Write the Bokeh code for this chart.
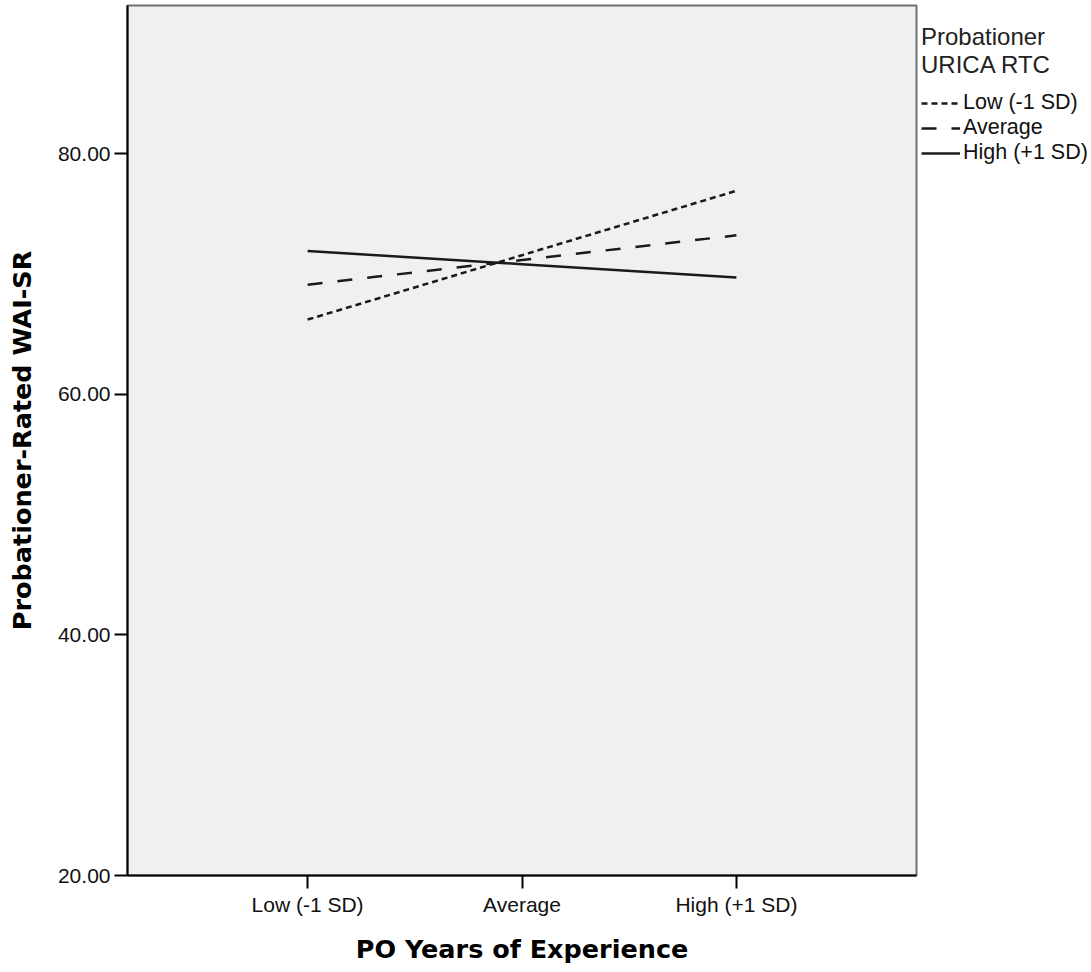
from bokeh.plotting import figure
from bokeh.models import FactorRange, Range1d, Legend, LegendItem, FixedTicker
from bokeh.embed import file_html
from bokeh.resources import INLINE

# ---- data ----
categories = ["Low (-1 SD)", "Average", "High (+1 SD)"]
low_rtc = [66.2, 71.55, 76.9]
avg_rtc = [69.1, 71.15, 73.2]
high_rtc = [71.9, 70.8, 69.7]
series_labels = ["Low (-1 SD)", "Average", "High (+1 SD)"]
y_ticks = [20, 40, 60, 80]
legend_title = "Probationer\nURICA RTC"
x_title = "PO Years of Experience"
y_title = "Probationer-Rated WAI-SR"

p = figure(
    x_range=FactorRange(factors=categories, range_padding=0.34, range_padding_units="absolute"),
    y_range=Range1d(20, 92.3),
    width=1088, height=965,
    frame_width=789, frame_height=870,
    min_border_left=127, min_border_right=172, min_border_top=5, min_border_bottom=90,
    output_backend="svg", toolbar_location=None,
    background_fill_color="#F0F0F0",
    border_fill_color="white",
)
p.outline_line_color = "#707070"
p.outline_line_width = 2
p.xgrid.visible = False
p.ygrid.visible = False

r1 = p.line(categories, low_rtc, line_color="#1a1a1a", line_width=2.5, line_dash="6 4")
r2 = p.line(categories, avg_rtc, line_color="#1a1a1a", line_width=2.5, line_dash="15 15")
r3 = p.line(categories, high_rtc, line_color="#1a1a1a", line_width=2.5)

for ax in (p.xaxis[0], p.yaxis[0]):
    ax.axis_line_color = "black"
    ax.axis_line_width = 2
    ax.major_tick_line_color = "black"
    ax.major_tick_line_width = 2
    ax.major_tick_out = 13
    ax.major_tick_in = 0
    ax.minor_tick_out = 0
    ax.minor_tick_in = 0
    ax.major_label_text_font = "Liberation Sans"
    ax.major_label_text_font_size = "21px"
    ax.major_label_text_color = "#111111"
    ax.major_label_standoff = 4
    ax.axis_label_text_font = "DejaVu Sans"
    ax.axis_label_text_font_style = "bold"
    ax.axis_label_text_font_size = "25.5px"
    ax.axis_label_text_color = "black"

p.xaxis.axis_label = x_title
p.xaxis.axis_label_standoff = 15
p.yaxis.axis_label = y_title
p.yaxis.axis_label_standoff = 18
p.yaxis.ticker = FixedTicker(ticks=y_ticks)
p.yaxis.major_label_overrides = {t: f"{t:.2f}" for t in y_ticks}

legend = Legend(
    items=[LegendItem(label=lab, renderers=[r]) for lab, r in zip(series_labels, [r1, r2, r3])],
    location=(0, 705),
    orientation="vertical",
    title=legend_title,
    title_text_font="Liberation Sans",
    title_text_font_size="24px",
    title_text_font_style="normal",
    title_text_color="#222222",
    title_text_align="center",
    title_standoff=11,
    label_text_font="Liberation Sans",
    label_text_font_size="21.5px",
    label_text_color="#111111",
    glyph_width=39, glyph_height=20, label_height=20,
    label_standoff=3, spacing=0, padding=5, margin=0,
    border_line_alpha=0, background_fill_alpha=0,
)
p.add_layout(legend, "right")

open("out.html", "w").write(file_html(p, INLINE))
